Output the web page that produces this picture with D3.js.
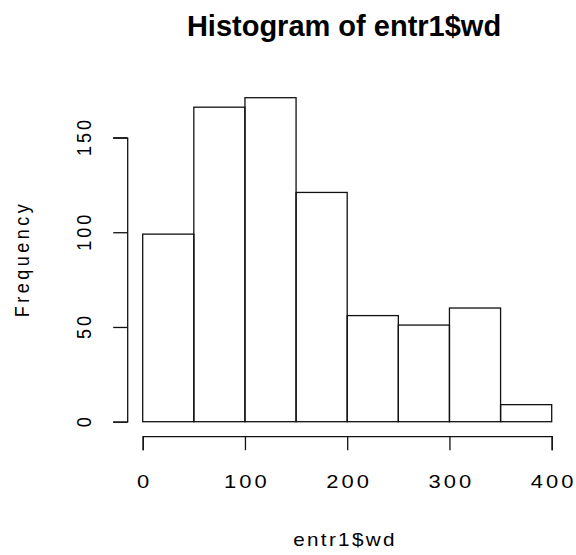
<!DOCTYPE html>
<html>
<head>
<meta charset="utf-8">
<script src="https://cdn.jsdelivr.net/npm/d3@7"></script>
<style>
  body { margin: 0; background: #fff; }
  text { font-family: "Liberation Sans", Arial, sans-serif; fill: #000; }
</style>
</head>
<body>
<div id="chart"></div>
<script>
// histogram bins of entr1$wd (breaks every 50)
var binStarts = [0, 50, 100, 150, 200, 250, 300, 350];
var binWidth = 50;
var counts = [99, 166, 171, 121, 56, 51, 60, 9];
var xTicks = [0, 100, 200, 300, 400];
var yTicks = [0, 50, 100, 150];

var W = 576, H = 555;
var sx = 1.15; // the reference is stretched sideways a little

var x = d3.scaleLinear().domain([0, 400]).range([142.7, 551.7]);
var y = d3.scaleLinear().domain([0, 150]).range([421.7, 137.5]);

var svg = d3.select('#chart').append('svg')
    .attr('width', W)
    .attr('height', H);

// bars
svg.append('g')
    .attr('fill', 'none')
    .attr('stroke', '#111')
    .attr('stroke-width', 1.3)
  .selectAll('rect')
  .data(binStarts)
  .join('rect')
    .attr('x', d => x(d))
    .attr('width', d => x(d + binWidth) - x(d))
    .attr('y', (d, i) => y(counts[i]))
    .attr('height', (d, i) => y(0) - y(counts[i]));

// x axis
var gx = svg.append('g')
    .attr('transform', 'translate(0,436.2)')
    .call(d3.axisBottom(x).tickValues(xTicks).tickSize(14).tickFormat(d3.format('d')));

gx.selectAll('text')
    .attr('y', null).attr('dy', null)
    .attr('font-size', 18)
    .attr('letter-spacing', 2.5)
    .attr('text-anchor', 'middle')
    .attr('transform', 'translate(1.5,51.5) scale(1.22,1)');

// y axis
var gy = svg.append('g')
    .attr('transform', 'translate(127.2,0)')
    .call(d3.axisLeft(y).tickValues(yTicks).tickSize(14).tickFormat(d3.format('d')));

gy.selectAll('text')
    .attr('x', 1.5).attr('dy', null)
    .attr('y', -36.5 / sx)
    .attr('font-size', 18)
    .attr('letter-spacing', 3)
    .attr('text-anchor', 'middle')
    .attr('transform', 'scale(' + sx + ',1) rotate(-90)');

svg.selectAll('.domain, .tick line')
    .attr('stroke', '#111')
    .attr('stroke-width', 1.3);

// titles
svg.append('text')
    .attr('x', 344)
    .attr('y', 36)
    .attr('text-anchor', 'middle')
    .attr('font-size', 29)
    .attr('font-weight', 'bold')
    .text('Histogram of entr1$wd');

svg.append('text')
    .attr('text-anchor', 'middle')
    .attr('font-size', 18)
    .attr('letter-spacing', 2)
    .attr('transform', 'translate(345,546) scale(' + sx + ',1)')
    .text('entr1$wd');

svg.append('text')
    .attr('text-anchor', 'middle')
    .attr('font-size', 18)
    .attr('letter-spacing', 3.5)
    .attr('transform', 'translate(28.5,259) scale(' + sx + ',1) rotate(-90)')
    .text('Frequency');
</script>
</body>
</html>
